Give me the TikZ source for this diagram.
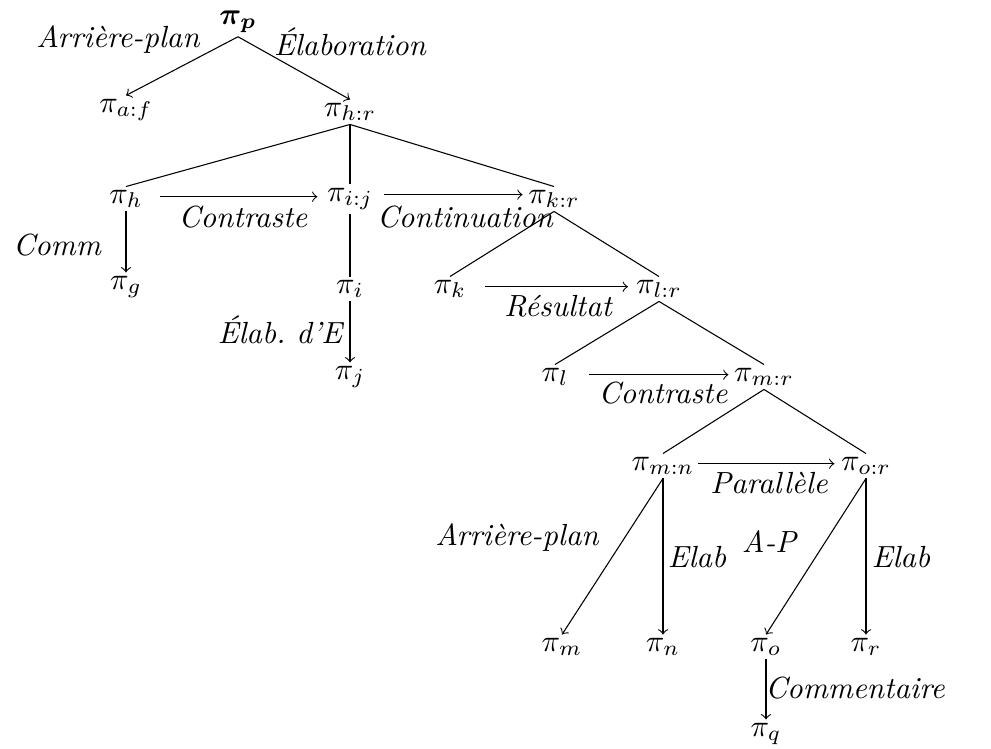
\documentclass[tikz,border=0pt]{standalone}
\usepackage{fontspec}
\usepackage{bm}
\begin{document}
\begin{tikzpicture}[x=0.327pt,y=-0.327pt,line width=0.35pt,
  seg/.style={inner sep=1pt},
  rel/.style={font=\itshape,inner sep=1pt}]
  \useasboundingbox (0,0) rectangle (991,749);
  % segments
  \node[seg] (p) at (238,22) {$\bm{\pi_p}$};
  \node[seg] (af) at (126,110) {$\pi_{a:f}$};
  \node[seg] (hr) at (350,112) {$\pi_{h:r}$};
  \node[seg] (h) at (126,199) {$\pi_h$};
  \node[seg] (ij) at (350,199) {$\pi_{i:j}$};
  \node[seg] (kr) at (554,199) {$\pi_{k:r}$};
  \node[seg] (g) at (126,287) {$\pi_g$};
  \node[seg] (i) at (350,289) {$\pi_i$};
  \node[seg] (k) at (450,289) {$\pi_k$};
  \node[seg] (lr) at (659,289) {$\pi_{l:r}$};
  \node[seg] (j) at (350,377) {$\pi_j$};
  \node[seg] (l) at (555,377) {$\pi_l$};
  \node[seg] (mr) at (764,377) {$\pi_{m:r}$};
  \node[seg] (mn) at (663,466) {$\pi_{m:n}$};
  \node[seg] (or) at (866,466) {$\pi_{o:r}$};
  \node[seg] (m) at (562,647) {$\pi_m$};
  \node[seg] (n) at (663,647) {$\pi_n$};
  \node[seg] (o) at (766,647) {$\pi_o$};
  \node[seg] (r) at (866,647) {$\pi_r$};
  \node[seg] (q) at (766,734) {$\pi_q$};
  % arbre
  \draw (hr.south) -- (h.north);
  \draw (hr.south) -- (ij.north);
  \draw (hr.south) -- (kr.north);
  \draw (ij.south) -- (i.north);
  \draw (kr.south) -- (k.north);
  \draw (kr.south) -- (lr.north);
  \draw (lr.south) -- (l.north);
  \draw (lr.south) -- (mr.north);
  \draw (mr.south) -- (mn.north);
  \draw (mr.south) -- (or.north);
  % relations
  \draw[->] (p.south) -- (af.north);
  \draw[->] (p.south) -- (hr.north);
  \draw[->] (h.south) -- (g.north);
  \draw[->] (i.south) -- (j.north);
  \draw[->,shorten <=4.5pt,shorten >=2pt] (h.mid east) -- (h.mid east -| ij.west);
  \draw[->,shorten <=2.5pt,shorten >=0.7pt] (ij.mid east) -- (ij.mid east -| kr.west);
  \draw[->,shorten <=5pt,shorten >=1.5pt] (k.mid east) -- (k.mid east -| lr.west);
  \draw[->,shorten <=5.5pt,shorten >=0.7pt] (l.mid east) -- (l.mid east -| mr.west);
  \draw[->,shorten >=1pt] (mn.mid east) -- (mn.mid east -| or.west);
  \draw[->] (mn.south) -- (m.north);
  \draw[->] (mn.south) -- (n.north);
  \draw[->] (or.south) -- (o.north);
  \draw[->] (or.south) -- (r.north);
  \draw[->] (o.south) -- (q.north);
  % etiquettes
  \node[rel] (lap) at (118,40) {Arrière-plan};
  \node[rel] (lel) at (350,42) {Élaboration};
  \node[rel] (lco) at (243,217) {Contraste};
  \node[rel] (lcn) at (465,217) {Continuation};
  \node[rel] (lcm) at (57,245) {Comm};
  \node[rel] (led) at (280,330) {Élab.\ d’E};
  \node[rel] (lre) at (558,306) {Résultat};
  \node[rel] (lct) at (663,393) {Contraste};
  \node[rel] (lpa) at (769,483) {Parallèle};
  \node[rel] (lab) at (517,538) {Arrière-plan};
  \node[rel] (leb) at (697,557) {Elab};
  \node[rel] (lap2) at (769,542) {A-P};
  \node[rel] (leb2) at (901,557) {Elab};
  \node[rel] (lcr) at (855,688) {Commentaire};
\end{tikzpicture}
\end{document}
